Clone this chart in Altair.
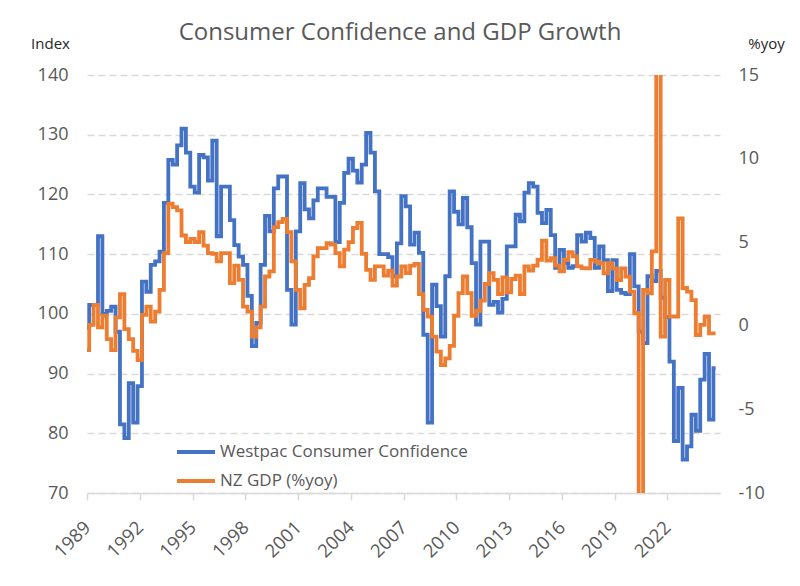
import altair as alt
import pandas as pd

FONT = "Open Sans"

chart_title = "Consumer Confidence and GDP Growth"
series_names = ["Westpac Consumer Confidence", "NZ GDP (%yoy)"]
series_colors = ["#4472C4", "#ED7D31"]

# quarterly observations, first one plotted at 1989.0, one quarter apart
first_position = 1989.0

confidence = [
    97.7, 101.5, 101.5, 113.0, 100.0, 100.5, 101.2, 97.0, 81.5, 79.2,
    88.4, 81.8, 87.9, 105.4, 103.7, 108.2, 108.8, 110.4, 118.6, 125.8,
    125.0, 128.2, 131.0, 127.0, 121.3, 120.3, 126.6, 126.2, 122.3, 129.0,
    113.0, 121.3, 121.3, 115.7, 111.5, 109.6, 108.2, 103.0, 94.6, 98.5,
    108.2, 116.4, 113.8, 121.0, 123.0, 123.0, 104.0, 98.2, 113.8, 121.9,
    117.5, 116.0, 119.0, 121.0, 121.0, 119.6, 119.6, 112.0, 118.6, 123.6,
    126.0, 124.0, 122.0, 125.0, 130.3, 127.0, 120.5, 110.0, 110.0, 109.5,
    106.3, 111.8, 119.7, 118.0, 111.6, 113.6, 110.2, 96.5, 81.8, 104.9,
    101.3, 96.2, 106.3, 120.5, 117.1, 115.0, 119.4, 114.5, 108.5, 98.2,
    112.1, 112.1, 101.5, 102.0, 100.2, 102.5, 111.3, 111.3, 116.6, 115.5,
    120.3, 121.9, 121.3, 116.9, 115.2, 117.4, 113.2, 107.7, 110.7, 108.5,
    107.7, 108.0, 113.2, 112.1, 113.6, 112.7, 107.7, 111.3, 109.0, 103.8,
    109.0, 104.0, 103.5, 103.3, 110.0, 104.6, 97.0, 95.1, 106.3, 105.5,
    107.2, 102.7, 99.5, 92.0, 78.7, 87.6, 75.6, 77.8, 83.1, 80.4,
    89.0, 93.3, 82.3, 90.9,
]

gdp_yoy = [
    -1.45, 0.05, 1.25, -0.1, 0.6, -0.8, -1.45, 0.5, 1.9, -0.2,
    -0.8, -1.5, -2.05, 0.65, 1.15, 0.25, 0.85, 2.15, 4.35, 7.3,
    7.1, 6.9, 5.4, 5.0, 5.2, 5.0, 5.6, 4.8, 4.35, 4.3,
    3.85, 4.35, 4.35, 2.55, 3.6, 2.75, 1.15, 0.85, -0.65, -0.1,
    1.15, 2.95, 3.25, 5.9, 6.2, 6.4, 5.6, 3.85, 2.15, 1.05,
    2.45, 2.85, 4.15, 4.65, 4.65, 4.95, 4.85, 4.35, 3.55, 4.55,
    5.0, 5.85, 6.15, 4.3, 3.35, 2.75, 3.55, 3.55, 3.0, 3.3,
    2.4, 2.95, 3.55, 3.15, 3.6, 3.7, 1.9, 0.95, 0.55, -0.65,
    -1.55, -2.35, -1.95, -1.2, 0.6, 1.95, 2.95, 1.95, 0.6, 0.9,
    1.5, 2.5, 3.15, 2.75, 1.9, 2.9, 2.0, 2.8, 3.0, 1.9,
    3.55, 3.3, 3.6, 3.95, 5.1, 3.9, 4.05, 3.6, 3.25, 3.95,
    4.4, 4.15, 3.55, 3.45, 3.44, 3.94, 3.84, 3.74, 3.14, 3.74,
    3.44, 2.74, 3.44, 2.94, 2.04, 0.75, -10.3, 2.14, 1.94, 4.45,
    17.0, -0.65, 2.74, 0.55, 0.55, 6.43, 2.26, 2.04, 1.54, -0.55,
    0.05, 0.55, -0.45, -0.45,
]

year_ticks = [1989, 1992, 1995, 1998, 2001, 2004, 2007, 2010, 2013, 2016, 2019, 2022]
left_ticks = [70, 80, 90, 100, 110, 120, 130, 140]
right_ticks = [-10, -5, 0, 5, 10, 15]

period = [first_position + i * 0.25 for i in range(len(confidence))]
df = pd.DataFrame({"t": period, "cc": confidence, "gdp": gdp_yoy})

color_scale = alt.Scale(domain=series_names, range=series_colors)

x_enc = alt.X(
    "t:Q",
    scale=alt.Scale(domain=[1989, 2025], nice=False, zero=False),
    axis=alt.Axis(
        values=year_ticks, format="d", labelAngle=-45, title=None, grid=False,
        domainColor="#d9d9d9", domainWidth=1.5, tickColor="#d9d9d9", tickSize=7,
        tickWidth=1.5, labelFontSize=18.5, labelColor="#595959", labelFont=FONT,
        labelAlign="right", labelBaseline="middle", labelPadding=24,
        labelOverlap=False, labelBound=False, labelFlush=False,
    ),
)

legend = alt.Legend(
    orient="none", legendX=88, legendY=356, title=None, symbolType="stroke",
    symbolSize=1444, symbolStrokeWidth=4, labelFontSize=17, labelColor="#595959",
    labelFont=FONT, rowPadding=-9, padding=0, labelOffset=3, labelLimit=0,
)
color_enc = alt.Color("series:N", scale=color_scale, legend=legend)

blue = alt.Chart(df).transform_calculate(
    series=f"'{series_names[0]}'"
).mark_line(interpolate="step", strokeWidth=3.8).encode(
    x=x_enc,
    y=alt.Y(
        "cc:Q",
        scale=alt.Scale(domain=[70, 140], nice=False, zero=False),
        axis=alt.Axis(
            values=left_ticks, title="Index", titleAngle=0, titleX=-37, titleY=-27,
            titleAlign="center", titleBaseline="alphabetic", titleFontSize=15,
            titleFontWeight="normal", titleColor="#262626", titleFont=FONT,
            grid=True, gridDash=[7, 4], gridColor="#d9d9d9", gridWidth=1.3,
            domain=False, ticks=False, labelPadding=19, labelFontSize=18,
            labelColor="#595959", labelFont=FONT,
        ),
    ),
    color=color_enc,
)

orange = alt.Chart(df).transform_calculate(
    series=f"'{series_names[1]}'"
).mark_line(interpolate="step", strokeWidth=3.8, clip=True).encode(
    x=x_enc,
    y=alt.Y(
        "gdp:Q",
        scale=alt.Scale(domain=[-10, 15], nice=False, zero=False),
        axis=alt.Axis(
            orient="right", values=right_ticks, labelExpr="'' + datum.value",
            title="%yoy", titleAngle=0,
            titleX=46, titleY=-27, titleAlign="center", titleBaseline="alphabetic",
            titleFontSize=15, titleFontWeight="normal", titleColor="#262626",
            titleFont=FONT, grid=False, domain=False, ticks=False, labelPadding=18,
            labelFontSize=18, labelColor="#595959", labelFont=FONT,
        ),
    ),
    color=color_enc,
)

title_layer = alt.Chart(pd.DataFrame({"label": [chart_title]})).mark_text(
    font=FONT, fontSize=24, color="#595959", align="center", baseline="alphabetic"
).encode(text="label:N", x=alt.value(313), y=alt.value(-35))

chart = (
    alt.layer(blue, orange, title_layer)
    .resolve_scale(y="independent")
    .properties(
        width=633, height=418,
        autosize=alt.AutoSizeParams(type="none"),
        padding={"left": 79, "top": 67, "right": 72, "bottom": 85},
    )
    .configure_view(stroke=None)
)

chart.save("out.html", embed_options={"renderer": "svg", "actions": False})
